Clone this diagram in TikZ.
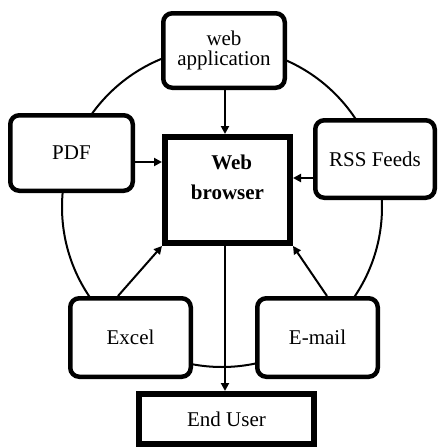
\documentclass[tikz,border=0pt]{standalone}
\usepackage{fontspec}
\setmainfont{Liberation Serif}
\usetikzlibrary{arrows.meta}
\begin{document}
\begin{tikzpicture}[x=1pt,y=-1pt,
  rbox/.style={draw, line width=4.5pt, rounded corners=9pt, fill=white, align=center,
    font=\fontsize{21}{20}\selectfont, inner sep=0pt},
  sbox/.style={draw, line width=6pt, fill=white, align=center,
    font=\fontsize{21}{24}\selectfont, inner sep=0pt},
  conn/.style={line width=2pt, -{Triangle[length=8pt,width=8pt]}},
  ring/.style={line width=2pt}]
\useasboundingbox (0,0) rectangle (438,448);
\draw[ring] (222,207) circle[radius=160pt];
\node[rbox, minimum width=121.5pt, minimum height=74.5pt] (webapp) at (224,50.5) {web\\application};
\node[rbox, minimum width=122.5pt, minimum height=75.5pt] (pdf) at (71.5,153) {PDF};
\node[rbox, minimum width=119.5pt, minimum height=77.5pt] (rss) at (375,159) {RSS Feeds};
\node[rbox, minimum width=120.5pt, minimum height=78.5pt] (excel) at (130.5,337.5) {Excel};
\node[rbox, minimum width=120.5pt, minimum height=78.5pt] (email) at (317.5,337.5) {E-mail};
\node[sbox, minimum width=125pt, minimum height=106pt,
  label={[font=\bfseries\fontsize{21}{30}\selectfont, align=center, yshift=12.5pt]center:\hspace{0.4em}Web\\browser}] (browser) at (227.5,190) {};
\node[sbox, minimum width=175pt, minimum height=50pt] (enduser) at (226.5,419) {End User};
\draw[conn] ([xshift=1pt]webapp.south) -- ([xshift=1pt]webapp.south |- browser.north);
\draw[conn] ([yshift=-9pt]pdf.east) -- ([yshift=-9pt]pdf.east -| browser.west);
\draw[conn] ([yshift=-19pt]rss.west) -- ([yshift=-19pt]rss.west -| browser.east);
\draw[conn] ([xshift=-12.5pt]excel.north) -- (browser.south west);
\draw[conn] ([xshift=9.5pt]email.north) -- (browser.south east);
\draw[conn] ([xshift=-2.5pt]browser.south) -- ([xshift=-2.5pt]browser.south |- enduser.north);
\end{tikzpicture}
\end{document}
